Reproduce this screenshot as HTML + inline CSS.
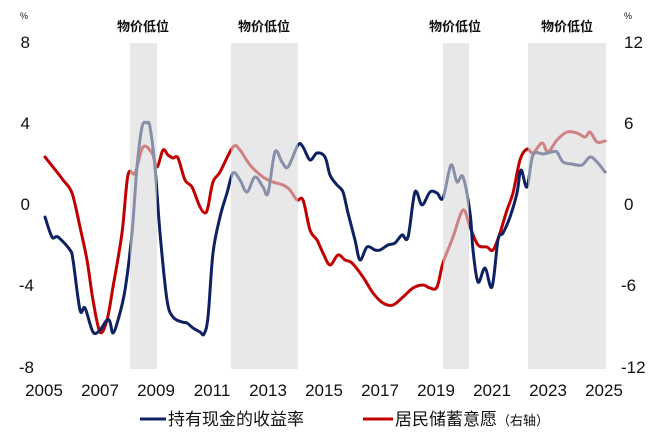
<!DOCTYPE html>
<html><head><meta charset="utf-8"><style>
body{margin:0;background:#fff}
svg text{font-family:"Liberation Sans","Noto Sans CJK SC",sans-serif}
</style></head><body>
<svg width="660" height="436" viewBox="0 0 660 436" xmlns="http://www.w3.org/2000/svg">
<g fill="none" stroke-width="3" stroke-linejoin="round" stroke-linecap="round">
<polyline id="r" stroke="#c00000" points="45,157 57,172 63,180 72,193 80,227 87,260 93,300 100,332 107,320 113,287 122,233 128,175 135,173 143,147 152,153 157,167 163,150 168,155 173,158 178,158 185,180 192,187 200,207 205,213 208,207 213,182 220,172 233,147 240,150 250,165 263,177 273,182 283,185 290,190 297,200 303,200 310,230 317,240 323,253 330,265 338,255 345,260 352,263 363,277 373,293 383,303 393,305 403,297 413,288 423,285 430,288 437,287 443,263 453,237 463,210 470,227 478,245 487,247 493,250 500,233 507,210 513,193 520,160 527,149 533,153 542,143 548,152 557,140 567,132 577,133 585,137 590,132 597,142 605,141"/>
<polyline id="b" stroke="#0e2163" points="45,217 52,237 58,237 70,250 73,260 80,310 85,308 93,332 100,330 107,320 110,322 113,333 118,320 125,290 132,233 137,167 142,127 147,123 150,127 155,167 160,233 167,300 173,317 182,322 187,323 193,328 200,332 204,334 208,317 213,253 220,217 227,193 233,173 240,180 247,192 255,177 263,187 268,193 275,152 282,162 288,167 298,145 303,147 310,160 317,153 325,157 330,175 337,185 343,192 348,213 355,240 360,260 367,247 375,250 380,250 388,245 395,243 402,235 408,237 415,192 422,205 430,192 437,193 443,198 451,165 457,182 463,177 470,213 473,250 478,282 485,268 492,287 498,240 503,233 510,217 517,193 521,170 527,187 533,155 543,154 552,152 557,152 563,162 572,164 582,165 590,157 597,162 605,172"/>
</g>
<g fill="#d9d9d9" fill-opacity="0.6">
<rect x="130" y="43" width="27" height="326"/>
<rect x="231" y="43" width="67" height="326"/>
<rect x="443" y="43" width="26" height="326"/>
<rect x="528" y="43" width="78" height="326"/>
</g>
<g font-size="13" font-weight="bold" text-anchor="middle" fill="#111">
<text x="143" y="31">物价低位</text>
<text x="264" y="31">物价低位</text>
<text x="455" y="31">物价低位</text>
<text x="567" y="31">物价低位</text>
</g>
<g font-size="9" fill="#111"><text x="20" y="19">%</text><text x="624" y="19">%</text></g>
<g font-size="17" fill="#111" text-anchor="end">
<text x="30" y="48">8</text><text x="30" y="129">4</text><text x="30" y="210">0</text><text x="34" y="291">-4</text><text x="34" y="373">-8</text>
</g>
<g font-size="17" fill="#111" text-anchor="start">
<text x="624" y="48">12</text><text x="624" y="129">6</text><text x="624" y="210">0</text><text x="621" y="291">-6</text><text x="621" y="373">-12</text>
</g>
<g font-size="17" fill="#111" text-anchor="middle">
<text x="44" y="396">2005</text><text x="100" y="396">2007</text><text x="156" y="396">2009</text><text x="212" y="396">2011</text><text x="268" y="396">2013</text><text x="324" y="396">2015</text><text x="380" y="396">2017</text><text x="436" y="396">2019</text><text x="492" y="396">2021</text><text x="548" y="396">2023</text><text x="604" y="396">2025</text>
</g>
<line x1="140" y1="419" x2="166" y2="419" stroke="#0e2163" stroke-width="3"/>
<text x="168" y="425" font-size="17" fill="#111">持有现金的收益率</text>
<line x1="363" y1="419" x2="393" y2="419" stroke="#c00000" stroke-width="3"/>
<text x="395" y="425" font-size="17" fill="#111">居民储蓄意愿<tspan font-size="13">（右轴）</tspan></text>
</svg>
<script>
['r','b'].forEach(function(id){
var pl=document.getElementById(id);
var p=pl.getAttribute('points').trim().split(/\s+/).map(function(s){return s.split(',').map(Number);});
var d='M'+p[0][0]+','+p[0][1];
for(var i=0;i<p.length-1;i++){
var p0=p[i-1]||p[i],p1=p[i],p2=p[i+1],p3=p[i+2]||p2;
var c1x=p1[0]+(p2[0]-p0[0])/6,c1y=p1[1]+(p2[1]-p0[1])/6;
var c2x=p2[0]-(p3[0]-p1[0])/6,c2y=p2[1]-(p3[1]-p1[1])/6;
d+=' C'+c1x.toFixed(1)+','+c1y.toFixed(1)+' '+c2x.toFixed(1)+','+c2y.toFixed(1)+' '+p2[0]+','+p2[1];
}
var path=document.createElementNS('http://www.w3.org/2000/svg','path');
path.setAttribute('d',d);path.setAttribute('stroke',pl.getAttribute('stroke'));
pl.parentNode.replaceChild(path,pl);
});
</script>
</body></html>
